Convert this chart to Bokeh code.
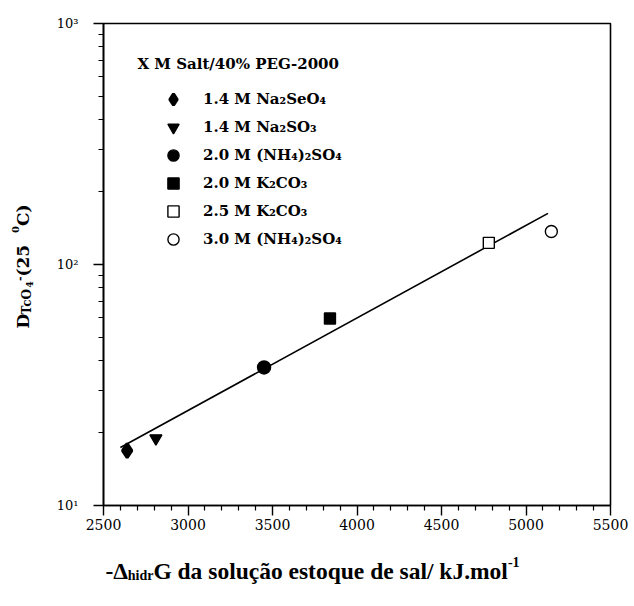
import math
from bokeh.plotting import figure
from bokeh.models import Label, Legend, LegendItem, FixedTicker
from bokeh.layouts import row, column
from bokeh.embed import file_html
from bokeh.resources import INLINE

# ---------------- data ----------------
salts = ["1.4 M Na₂SeO₄", "1.4 M Na₂SO₃", "2.0 M (NH₄)₂SO₄",
         "2.0 M K₂CO₃", "2.5 M K₂CO₃", "3.0 M (NH₄)₂SO₄"]
dG_hidr = [2640, 2810, 3450, 3840, 4780, 5150]
D_TcO4 = [16.9, 19.0, 37.4, 59.7, 123, 137]
fit_x = [2600, 5130]
fit_y = [17.4, 163]
x_ticks = [2500, 3000, 3500, 4000, 4500, 5000, 5500]
y_ticks = [10, 100, 1000]
y_tick_labels = ["10¹", "10²", "10³"]
legend_title = "X  M Salt/40% PEG-2000"

# ---------------- styles ----------------
markers = ["diamond", "inverted_triangle", "circle", "square", "square", "circle"]
sizes = [14, 12, 13, 11, 11, 12]
line_widths = [3, 1.4, 1.4, 1.4, 1.4, 1.4]
filled = [True, True, True, True, False, False]

LEFT_W = 50
MAIN_W, MAIN_H = 580, 545
FRAME_W = 507
BOT_H = 55

p = figure(width=MAIN_W, height=MAIN_H, x_range=(2500, 5500), y_range=(10, 1000),
           y_axis_type="log", output_backend="svg", toolbar_location=None,
           min_border_left=53, min_border_right=20, min_border_top=23,
           min_border_bottom=40)
p.grid.visible = False
p.outline_line_color = "black"
p.outline_line_width = 1.6
p.background_fill_color = "white"
p.border_fill_color = "white"

x_minor = [v for v in range(2500, 5501, 100) if v not in x_ticks]
y_minor = [m * 10 ** e for e in (1, 2) for m in range(2, 10)]
p.xaxis.ticker = FixedTicker(ticks=x_ticks, minor_ticks=x_minor)
p.yaxis.ticker = FixedTicker(ticks=y_ticks, minor_ticks=y_minor)
p.yaxis.major_label_overrides = {t: l for t, l in zip(y_ticks, y_tick_labels)}

for ax in (p.xaxis[0], p.yaxis[0]):
    ax.axis_line_width = 1.6
    ax.axis_line_color = "black"
    ax.major_tick_out = 10
    ax.major_tick_in = 0
    ax.minor_tick_out = 5
    ax.minor_tick_in = 0
    ax.major_tick_line_width = 1.4
    ax.minor_tick_line_width = 1.2
    ax.major_tick_line_color = "black"
    ax.minor_tick_line_color = "black"
    ax.major_label_text_font = "DejaVu Serif"
    ax.major_label_text_color = "black"
p.xaxis.major_label_text_font_size = "14px"
p.yaxis.major_label_text_font_size = "13px"
p.xaxis.major_label_standoff = 3
p.yaxis.major_label_standoff = 15

# fit line
p.line(fit_x, fit_y, line_color="black", line_width=1.6)

items = []
for i in range(len(salts)):
    r = p.scatter([dG_hidr[i]], [D_TcO4[i]], marker=markers[i], size=sizes[i],
                  fill_color="black" if filled[i] else "white",
                  line_color="black", line_width=line_widths[i])
    items.append(LegendItem(label=salts[i], renderers=[r]))

legend = Legend(items=items, location=(56, 252), glyph_width=28, glyph_height=28,
                spacing=0, padding=0, margin=0, label_standoff=16, label_height=28,
                label_text_font="DejaVu Serif", label_text_font_style="bold",
                label_text_font_size="15px", label_text_color="black",
                border_line_color=None, background_fill_alpha=0)
p.add_layout(legend)

p.add_layout(Label(x=34, y=442, x_units="screen", y_units="screen", text=legend_title,
                   text_font="DejaVu Serif", text_font_style="bold", text_color="black",
                   text_font_size="15px", text_baseline="middle"))


def text_panel(w, h):
    f = figure(frame_width=w, frame_height=h, x_range=(0, w), y_range=(0, h),
               output_backend="svg", toolbar_location=None,
               min_border=0, min_border_left=0, min_border_right=0,
               min_border_top=0, min_border_bottom=0,
               x_axis_location=None, y_axis_location=None)
    f.grid.visible = False
    f.outline_line_color = None
    f.background_fill_color = "white"
    f.border_fill_color = "white"
    return f


TNR_B = {" ": .25, "-": .333, "Δ": .612, "G": .778, "a": .5, "d": .556, "e": .444,
         "h": .556, "i": .278, "k": .556, "l": .278, "m": .833, "o": .5, "q": .556,
         "r": .444, "s": .389, "t": .333, "u": .556, "ç": .444, "ã": .5, "/": .278,
         "J": .5, ".": .25, "1": .5}
DJV_B = {" ": .348, "D": .83, "T": .733, "c": .643, "O": .85, "4": .696, "-": .415,
         "(": .473, ")": .473, "2": .696, "5": .696, "0": .696, "C": .734}


def runs(fig, pieces, x0, y0, font, table, vertical=False):
    pos = 0.0
    for text, size, shift in pieces:
        if vertical:
            lab = Label(x=x0 - shift, y=y0 + pos, angle=math.pi / 2)
        else:
            lab = Label(x=x0 + pos, y=y0 + shift)
        lab.update(text=text, text_font=font, text_font_style="bold",
                   text_font_size=f"{size}px", text_baseline="alphabetic",
                   text_align="left", text_color="black")
        fig.add_layout(lab)
        pos += sum(table.get(c, 0.55) for c in text) * size


left = text_panel(LEFT_W, MAIN_H + BOT_H)
runs(left, [("D", 17, 0), ("TcO", 12, -4), ("4", 9.5, -7), ("-", 11, 3),
            (" (25 ", 17, 0), ("0", 10, 7), ("C)", 17, 0)],
     22, 272, "DejaVu Serif", DJV_B, vertical=True)

bottom = text_panel(FRAME_W, BOT_H)
runs(bottom, [("-Δ", 23.5, 0), ("hidr", 14, -5),
              ("G da solução estoque de sal/ kJ.mol", 23.5, 0), ("-1", 14, 9)],
     2, 30, "Liberation Serif", TNR_B)

layout = row(left, column(p, bottom, spacing=0), spacing=0)
open("out.html", "w").write(file_html(layout, INLINE))
